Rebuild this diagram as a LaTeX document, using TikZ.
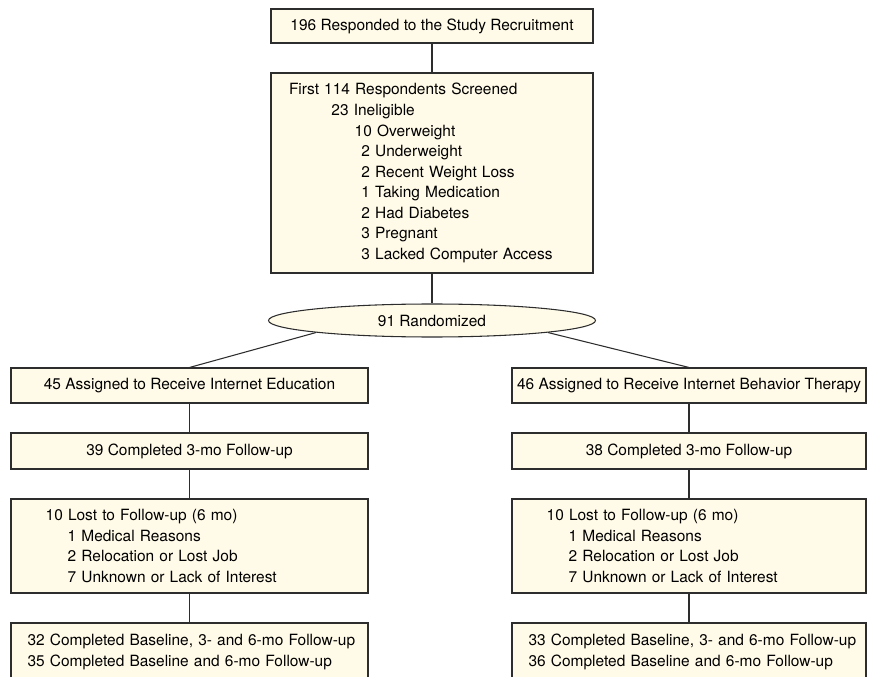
\documentclass[tikz,border=0pt]{standalone}
\usepackage{fontspec}
\setmainfont{TeX Gyre Heros}
\usetikzlibrary{shapes.geometric}
\definecolor{cream}{RGB}{255,251,232}
\definecolor{edge}{RGB}{45,45,45}

\begin{document}
\begin{tikzpicture}[x=0.75pt,y=-0.75pt,
  font=\fontsize{11.6}{15.4}\selectfont,
  box/.style={draw=edge, fill=cream, line width=0.8pt, inner ysep=0pt},
  oval/.style={draw=edge, fill=cream, line width=0.8pt, ellipse, inner sep=0pt},
  link/.style={draw=edge, line width=0.8pt}]
  \useasboundingbox (0,0) rectangle (871,677);

  % Screening part
  \node[box, minimum width=241.5pt, minimum height=25.5pt] (top) at (432,26)
    {196 Responded to the Study Recruitment};
  \node[box, minimum height=150pt, inner xsep=13.5pt, text width=214.5pt, align=left] (screen) at (432,173)
    {First 114 Respondents Screened\\
     \hspace*{31.8pt}23 Ineligible\\
     \hspace*{49.3pt}10 Overweight\\
     \hspace*{54.3pt}2 Underweight\\
     \hspace*{54.3pt}2 Recent Weight Loss\\
     \hspace*{54.3pt}1 Taking Medication\\
     \hspace*{54.3pt}2 Had Diabetes\\
     \hspace*{54.3pt}3 Pregnant\\
     \hspace*{54.3pt}3 Lacked Computer Access};
  \node[oval, minimum width=245.25pt, minimum height=24.75pt] (rand) at (432,320.5) {91 Randomized};

  % Left arm
  \node[box, minimum width=267.75pt, minimum height=26.25pt] (assL) at (189.5,385.5)
    {45 Assigned to Receive Internet Education};
  \node[box, minimum width=267.75pt, minimum height=27pt] (compL) at (189.5,451)
    {39 Completed 3-mo Follow-up};
  \node[box, minimum height=70.5pt, inner xsep=26pt, text width=215.75pt, align=left] (lostL) at (189.5,546)
    {10 Lost to Follow-up (6 mo)\\
     \hspace*{16.5pt}1 Medical Reasons\\
     \hspace*{16.5pt}2 Relocation or Lost Job\\
     \hspace*{16.5pt}7 Unknown or Lack of Interest};
  \node[box, minimum height=43.5pt, inner xsep=12.4pt, text width=242.95pt, align=left] (endL) at (189.5,652)
    {\mbox{32 Completed Baseline, 3- and 6-mo Follow-up}\\
     \mbox{35 Completed Baseline and 6-mo Follow-up}};

  % Right arm
  \node[box, minimum width=265.5pt, minimum height=26.25pt] (assR) at (689,385.5)
    {46 Assigned to Receive Internet Behavior Therapy};
  \node[box, minimum width=265.5pt, minimum height=27pt] (compR) at (689,451)
    {38 Completed 3-mo Follow-up};
  \node[box, minimum height=70.5pt, inner xsep=26pt, text width=213.5pt, align=left] (lostR) at (689,546)
    {10 Lost to Follow-up (6 mo)\\
     \hspace*{16.5pt}1 Medical Reasons\\
     \hspace*{16.5pt}2 Relocation or Lost Job\\
     \hspace*{16.5pt}7 Unknown or Lack of Interest};
  \node[box, minimum height=43.5pt, inner xsep=12.4pt, text width=240.7pt, align=left] (endR) at (689,652)
    {\mbox{33 Completed Baseline, 3- and 6-mo Follow-up}\\
     \mbox{36 Completed Baseline and 6-mo Follow-up}};

  % Connectors
  \draw[link] (top) -- (screen);
  \draw[link] (screen) -- (rand);
  \draw[link] (rand.south west) -- (assL.north);
  \draw[link] (rand.south east) -- (assR.north);
  \draw[link] (assL) -- (compL);
  \draw[link] (compL) -- (lostL);
  \draw[link] (lostL) -- (endL);
  \draw[link] (assR) -- (compR);
  \draw[link] (compR) -- (lostR);
  \draw[link] (lostR) -- (endR);
\end{tikzpicture}
\end{document}
